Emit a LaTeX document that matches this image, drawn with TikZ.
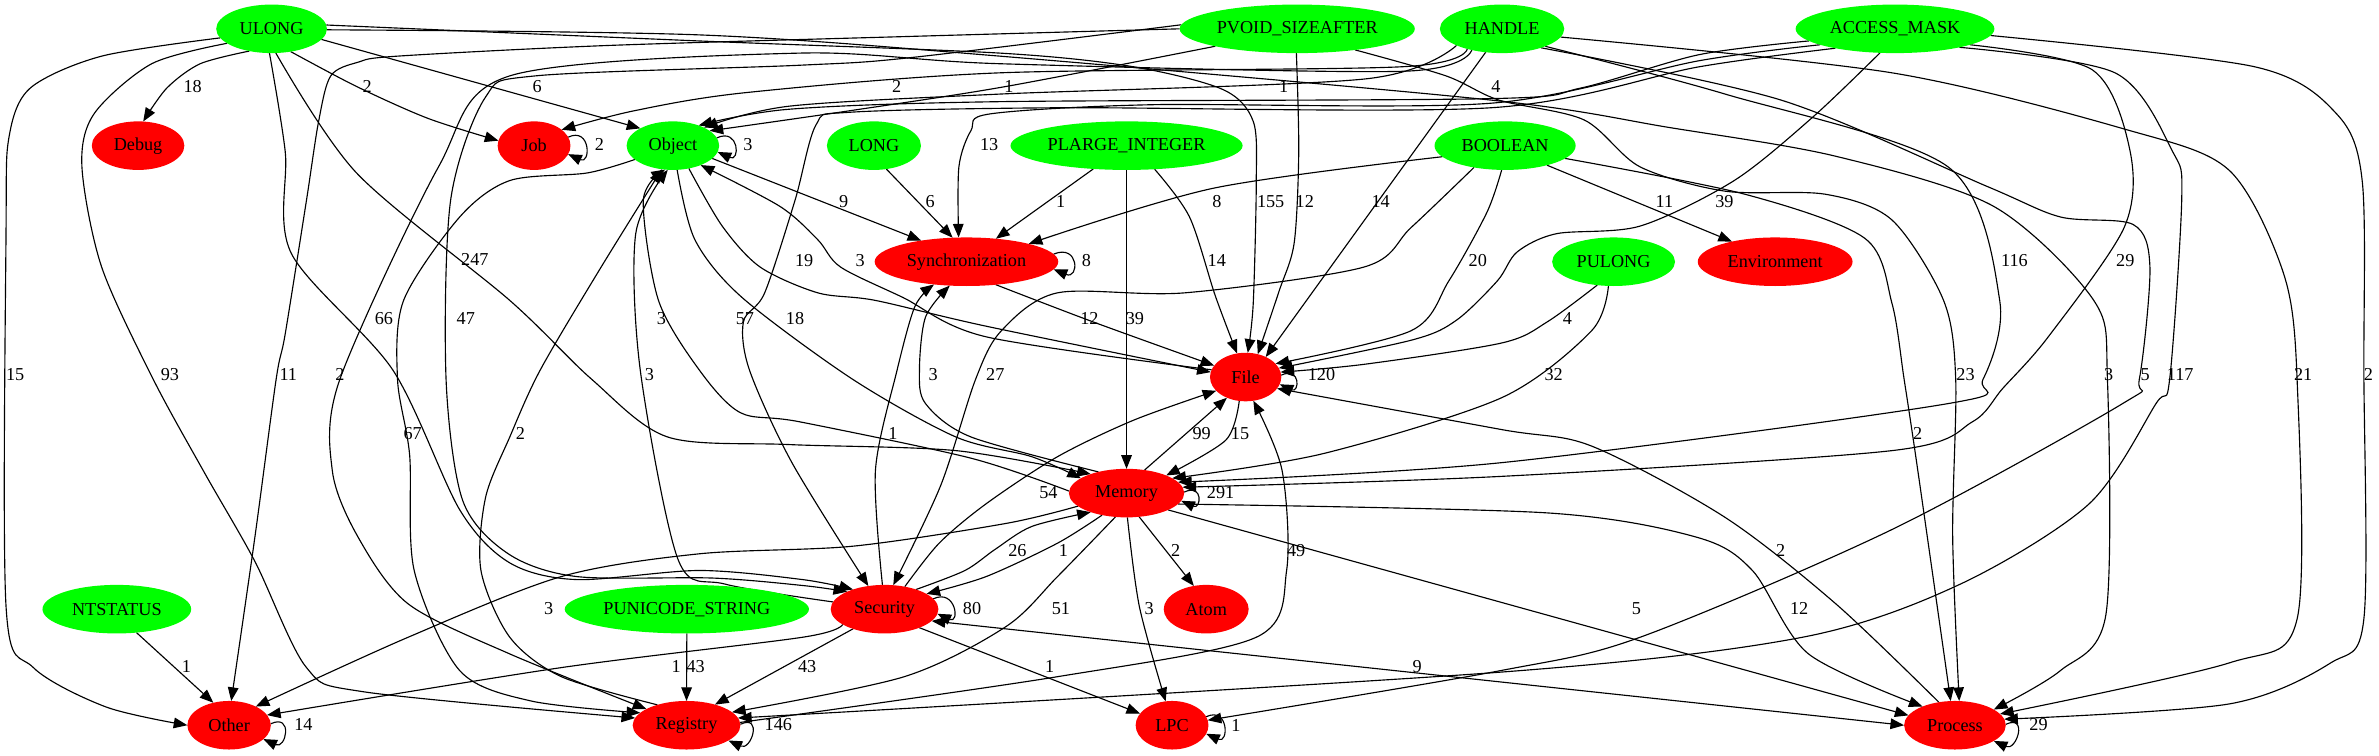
\documentclass[tikz,border=0pt]{standalone}
\usepackage{fontspec}
\setmainfont{Liberation Serif}
\usetikzlibrary{shapes.geometric,arrows.meta,backgrounds}
\definecolor{gvgreen}{RGB}{0,255,0}
\definecolor{gvred}{RGB}{255,0,0}
\newcommand{\gvf}{\fontsize{12pt}{13pt}\selectfont}
\begin{document}
\begin{tikzpicture}[x=1pt,y=-1pt,
  gvnode/.style={ellipse, inner sep=0pt, outer sep=0pt, minimum height=32pt, font=\gvf},
  gsrc/.style={gvnode, fill=gvgreen},
  gcat/.style={gvnode, fill=gvred},
  glbl/.style={font=\gvf, inner sep=0pt},
  gve/.style={draw=black, line width=0.75pt, -{Triangle[length=9pt,width=7pt]}},
  gvb/.style={draw=black, line width=0.75pt, {Triangle[length=9pt,width=7pt]}-{Triangle[length=9pt,width=7pt]}},
]
\useasboundingbox (0,0) rectangle (1568,498);
% nodes
\node[gsrc, minimum width=73pt]  (ULONG)    at (179,19)     {ULONG};
\node[gsrc, minimum width=155pt] (PVOID)    at (855,19)     {PVOID\_SIZEAFTER};
\node[gsrc, minimum width=82pt]  (HANDLE)   at (990,19)     {HANDLE};
\node[gsrc, minimum width=131pt] (ACCESS)   at (1249,19)    {ACCESS\_MASK};
\node[gcat, minimum width=61pt]  (Debug)    at (91,96)      {Debug};
\node[gcat, minimum width=48pt]  (Job)      at (352,96)     {Job};
\node[gsrc, minimum width=61pt]  (Object)   at (443.5,96)   {Object};
\node[gsrc, minimum width=62pt]  (LONG)     at (576,96)     {LONG};
\node[gsrc, minimum width=153pt] (PLARGE)   at (742.5,96)   {PLARGE\_INTEGER};
\node[gsrc, minimum width=93pt]  (BOOLEAN)  at (992,96)     {BOOLEAN};
\node[gcat, minimum width=121pt] (Sync)     at (637,172.5)  {Synchronization};
\node[gsrc, minimum width=81pt]  (PULONG)   at (1063.5,172.5) {PULONG};
\node[gcat, minimum width=102pt] (Env)      at (1170,172.5) {Environment};
\node[gcat, minimum width=47pt]  (File)     at (821,248.5)  {File};
\node[gcat, minimum width=76pt]  (Memory)   at (742.5,325)  {Memory};
\node[gsrc, minimum width=98pt]  (NTSTATUS) at (77,401.5)   {NTSTATUS};
\node[gsrc, minimum width=161pt] (PUNI)     at (452.7,401.5) {PUNICODE\_STRING};
\node[gcat, minimum width=71pt]  (Security) at (583,401.5)  {Security};
\node[gcat, minimum width=56pt]  (Atom)     at (795,401.5)  {Atom};
\node[gcat, minimum width=55pt]  (Other)    at (151,478)    {Other};
\node[gcat, minimum width=71pt]  (Registry) at (452.5,478)  {Registry};
\node[gcat, minimum width=48pt]  (LPC)      at (772.5,478)  {LPC};
\node[gcat, minimum width=67pt]  (Process)  at (1288.5,478) {Process};
% labels
\node[glbl] (L1) at (127,57) {18};
\node[glbl] (L2) at (242,57) {2};
\node[glbl] (L3) at (354,57) {6};
\node[glbl] (L4) at (591,57) {2};
\node[glbl] (L5) at (665,57) {1};
\node[glbl] (L6) at (846,57) {1};
\node[glbl] (L7) at (986,57) {4};
\node[glbl] (L8) at (395,95) {2};
\node[glbl] (L9) at (493,95) {3};
\node[glbl] (L10) at (652,95) {13};
\node[glbl] (L11) at (556,133) {9};
\node[glbl] (L12) at (613,133) {6};
\node[glbl] (L13) at (699,133) {1};
\node[glbl] (L14) at (802,133) {8};
\node[glbl] (L15) at (837.5,133) {155};
\node[glbl] (L16) at (860,133) {12};
\node[glbl] (L17) at (910,133) {14};
\node[glbl] (L18) at (1097,133) {11};
\node[glbl] (L19) at (1136.6,133) {39};
\node[glbl] (L20) at (313,171) {247};
\node[glbl] (L21) at (530,172) {19};
\node[glbl] (L22) at (567,172) {3};
\node[glbl] (L23) at (716,172) {8};
\node[glbl] (L24) at (802,172) {14};
\node[glbl] (L25) at (974,172) {20};
\node[glbl] (L26) at (1327.7,172) {116};
\node[glbl] (L27) at (1400.8,172) {29};
\node[glbl] (L28) at (253,210) {66};
\node[glbl] (L29) at (307,210) {47};
\node[glbl] (L30) at (436,210) {3};
\node[glbl] (L31) at (491,210) {57};
\node[glbl] (L32) at (524,210) {18};
\node[glbl] (L33) at (718,210) {12};
\node[glbl] (L34) at (748,210) {39};
\node[glbl] (L35) at (1033,210) {4};
\node[glbl] (L36) at (10,247) {15};
\node[glbl] (L37) at (112,247) {93};
\node[glbl] (L38) at (190,247) {11};
\node[glbl] (L39) at (224,247) {2};
\node[glbl] (L40) at (428,247) {3};
\node[glbl] (L41) at (615,247) {3};
\node[glbl] (L42) at (656,247) {27};
\node[glbl] (L43) at (871,247) {120};
\node[glbl] (L44) at (1024,247) {32};
\node[glbl] (L45) at (1295.5,247) {23};
\node[glbl] (L46) at (1389.8,247) {3};
\node[glbl] (L47) at (1413.8,247) {5};
\node[glbl] (L48) at (1437,247) {117};
\node[glbl] (L49) at (1518,247) {21};
\node[glbl] (L50) at (1561,247) {2};
\node[glbl] (L51) at (272,285.6) {67};
\node[glbl] (L52) at (343,285.6) {2};
\node[glbl] (L53) at (588.5,285.7) {1};
\node[glbl] (L54) at (792,285.7) {99};
\node[glbl] (L55) at (817.3,285.7) {15};
\node[glbl] (L56) at (1264,285.7) {2};
\node[glbl] (L57) at (691,324.8) {54};
\node[glbl] (L58) at (804.5,324.8) {291};
\node[glbl] (L59) at (670.6,362.6) {26};
\node[glbl] (L60) at (700.9,362.6) {1};
\node[glbl] (L61) at (774.9,362.6) {2};
\node[glbl] (L62) at (854.3,362.6) {49};
\node[glbl] (L63) at (1173.6,362.6) {2};
\node[glbl] (L64) at (361.6,401) {3};
\node[glbl] (L65) at (640.7,401) {80};
\node[glbl] (L66) at (699.2,401) {51};
\node[glbl] (L67) at (757.4,401) {3};
\node[glbl] (L68) at (1078.6,401) {5};
\node[glbl] (L69) at (1185.8,401) {12};
\node[glbl] (L70) at (122.8,439) {1};
\node[glbl] (L71) at (445.7,439) {1};
\node[glbl] (L72) at (458.5,439) {43};
\node[glbl] (L73) at (532,439) {43};
\node[glbl] (L74) at (691.8,439) {1};
\node[glbl] (L75) at (934,439) {9};
\node[glbl] (L76) at (200,477.5) {14};
\node[glbl] (L77) at (513,477.5) {146};
\node[glbl] (L78) at (814.6,478) {1};
\node[glbl] (L79) at (1343.6,477.5) {29};

\begin{pgfonlayer}{background}
\fill[white] (0,0) rectangle (1568,498);
% ULONG
\draw[gve] plot[smooth] coordinates {(ULONG.225) (132,42) (110,58) (Debug.78)};
\draw[gve] plot[smooth] coordinates {(ULONG.-50) (235,57) (282,78) (Job.172)};
\draw[gve] (ULONG.-12) -- (Object.152);
\draw[gve] plot[smooth] coordinates {(ULONG.190) (67,37) (20,58) (6,90) (4,150) (4,400) (22,440) (70,466) (Other.180)};
\draw[gve] plot[smooth] coordinates {(ULONG.198) (100,42) (62,75) (54,110) (67,176) (101,250) (135,312) (168,370) (202,440) (240,456) (Registry.172)};
\draw[gve] plot[smooth] coordinates {(ULONG.265) (188,100) (192,167) (259,244) (303,336) (336,371) (380,382) (461,376) (529,382) (Security.148)};
\draw[gve] plot[smooth] coordinates {(ULONG.280) (235,114) (336,198) (390,250) (440,288) (520,293) (630,297) (Memory.152)};
\draw[gve] plot[smooth] coordinates {(ULONG.4) (461,27) (659,35) (747,44) (806,59) (826,80) (828,120) (826,200) (File.85)};
\draw[gve] plot[smooth] coordinates {(ULONG.-1) (461,23) (659,37) (983,66) (1100,84) (1210,103) (1314,136) (1380,198) (1389,250) (1388,405) (1358,442) (Process.22)};
% PVOID
\draw[gve] plot[smooth] coordinates {(PVOID.192) (663,57) (560,73) (Object.22)};
\draw[gve] plot[smooth] coordinates {(PVOID.180) (600,24) (400,30) (262,37) (236,41) (218,50) (210,80) (202,132) (188,220) (182,250) (168,354) (Other.85)};
\draw[gve] plot[smooth] coordinates {(PVOID.268) (856,100) (853,160) (843,192) (File.62)};
\draw[gve] plot[smooth] coordinates {(PVOID.-20) (953,50) (988,66) (1044,79) (1081,110) (1137,126) (1203,128) (1247,145) (1281,198) (1289,250) (1287,354) (Process.80)};
\draw[gve] plot[smooth] coordinates {(PVOID.178) (600,38) (527,43) (353,50) (320,64) (297,132) (294,250) (305,330) (335,365) (380,380) (470,381) (530,386) (Security.155)};
% HANDLE
\draw[gve] plot[smooth] coordinates {(HANDLE.210) (924,44) (659,48) (492,61) (418,73) (Job.30)};
\draw[gve] plot[smooth] coordinates {(HANDLE.200) (900,52) (659,62) (520,70) (Object.30)};
\draw[gve] plot[smooth] coordinates {(HANDLE.215) (924,47) (659,42) (527,35) (336,50) (289,110) (224,250) (219,310) (236,354) (269,398) (336,431) (Registry.158)};
\draw[gve] (HANDLE.235) -- (File.45);
\draw[gve] plot[smooth] coordinates {(HANDLE.-22) (1137,62) (1284,110) (1318,198) (1307,250) (1284,266) (989,305) (Memory.12)};
\draw[gve] plot[smooth] coordinates {(HANDLE.-26) (1174,66) (1310,123) (1358,143) (1406,148) (1417,176) (1410,250) (1399,266) (1247,349) (1081,420) (989,442) (LPC.8)};
\draw[gve] plot[smooth] coordinates {(HANDLE.-8) (1247,48) (1400,85) (1469,112) (1505,180) (1514,250) (1514,408) (1469,437) (Process.14)};
% ACCESS_MASK
\draw[gve] plot[smooth] coordinates {(ACCESS.188) (1120,36) (1042,58) (983,65) (659,67) (520,72) (Object.38)};
\draw[gve] plot[smooth] coordinates {(ACCESS.192) (1120,40) (983,68) (760,69) (653,75) (640,86) (632,110) (Sync.108)};
\draw[gve] plot[smooth] coordinates {(ACCESS.198) (1120,44) (983,71) (700,71) (560,74) (538,82) (524,132) (504,193) (490,212) (494,244) (522,305) (Security.125)};
\draw[gve] plot[smooth] coordinates {(ACCESS.238) (1195,77) (1143,119) (1081,149) (1026,154) (1000,166) (987,185) (960,211) (931,224) (File.15)};
\draw[gve] plot[smooth] coordinates {(ACCESS.-12) (1379,46) (1404,100) (1400,150) (1350,222) (1320,256) (1300,278) (1247,297) (989,314) (Memory.6)};
\draw[gve] plot[smooth] coordinates {(ACCESS.-16) (1394,48) (1432,100) (1438,130) (1430,250) (1421,266) (1377,332) (1292,385) (1188,420) (989,443) (Registry.8)};
\draw[gve] plot[smooth] coordinates {(ACCESS.-4) (1486,44) (1540,75) (1557,120) (1558,245) (1558,408) (1536,437) (1469,464) (Process.7)};
% LONG, PLARGE, BOOLEAN, PULONG, NTSTATUS, PUNICODE
\draw[gve] (LONG.-62) -- (Sync.120);
\draw[gve] (PLARGE.-145) -- (Sync.38);
\draw[gve] (PLARGE.south) -- (Memory.north);
\draw[gve] plot[smooth] coordinates {(PLARGE.-40) (784,143) (801,195) (File.110)};
\draw[gve] plot[smooth] coordinates {(BOOLEAN.190) (800,124) (Sync.16)};
\draw[gve] plot[smooth] coordinates {(BOOLEAN.215) (930,150) (899,176) (781,193) (697,193) (660,218) (643,250) (620,320) (Security.70)};
\draw[gve] plot[smooth] coordinates {(BOOLEAN.262) (980,140) (955,185) (930,218) (File.24)};
\draw[gve] (BOOLEAN.-25) -- (Env.155);
\draw[gve] plot[smooth] coordinates {(BOOLEAN.-12) (1150,128) (1229,157) (1247,200) (1255,250) (1264,310) (Process.100)};
\draw[gve] plot[smooth] coordinates {(PULONG.235) (1020,212) (990,226) (900,240) (File.8)};
\draw[gve] plot[smooth] coordinates {(PULONG.258) (1049,218) (990,262) (872,299) (Memory.18)};
\draw[gve] (NTSTATUS.-50) -- (Other.125);
\draw[gve] (PUNI.south) -- (Registry.north);
% Object
\draw[gve] (Object.-18) -- (Sync.155);
\draw[gve] plot[smooth] coordinates {(Object.-55) (476,149) (501,176) (539,193) (577,198) (650,215) (File.172)};
\draw[gve] plot[smooth] coordinates {(File.168) (650,222) (595,196) (554,176) (539,158) (514,136) (Object.-35)};
\draw[gve] plot[smooth] coordinates {(Object.-80) (458,158) (489,196) (562,250) (630,288) (680,301) (Memory.162)};
\draw[gve] plot[smooth] coordinates {(Object.200) (387,114) (336,119) (303,143) (266,198) (262,250) (270,300) (273,376) (303,442) (350,462) (Registry.165)};
\draw[gve] plot[smooth] coordinates {(Registry.145) (370,446) (336,420) (317,376) (320,328) (336,288) (356,244) (395,178) (Object.245)};
\draw[gve] plot[smooth] coordinates {(Security.172) (478,385) (447,369) (422,244) (419,154) (Object.258)};
\draw[gve] plot[smooth] coordinates {(Memory.178) (640,302) (527,278) (488,272) (461,244) (434,198) (424,132) (Object.252)};
% Sync, File, Memory, Security
\draw[gve] plot[smooth] coordinates {(Sync.-38) (720,212) (File.160)};
\draw[gve] plot[smooth] coordinates {(Security.95) (577,310) (591,245) (603,202) (Sync.215)};
\draw[gve] plot[smooth] coordinates {(Memory.143) (640,288) (610,266) (606,244) (610,209) (Sync.235)};
\draw[gve] plot[smooth] coordinates {(File.255) (808,290) (Memory.24)};
\draw[gve] (Memory.52) -- (File.228);
\draw[gve] plot[smooth] coordinates {(Security.48) (619,358) (650,332) (697,301) (747,277) (File.205)};
\draw[gve] plot[smooth] coordinates {(Security.32) (636,376) (656,362) (680,347) (Memory.208)};
\draw[gve] plot[smooth] coordinates {(Memory.222) (697,358) (650,380) (Security.20)};
\draw[gve] (Memory.-62) -- (Atom.118);
\draw[gve] plot[smooth] coordinates {(Memory.-88) (751,400) (LPC.105)};
\draw[gve] plot[smooth] coordinates {(Memory.245) (697,380) (663,413) (596,446) (Registry.16)};
\draw[gve] (Memory.-22) -- (Process.168);
\draw[gve] plot[smooth] coordinates {(Memory.-12) (1019,338) (1118,354) (1155,376) (1192,431) (Process.150)};
\draw[gve] plot[smooth] coordinates {(Process.125) (1210,398) (1137,341) (1049,294) (989,283) (File.-20)};
\draw[gvb] (Security.-14) -- (Process.180);
\draw[gve] (Security.212) -- (Registry.36);
\draw[gve] (Security.-28) -- (LPC.160);
\draw[gve] plot[smooth] coordinates {(Security.200) (529,420) (370,440) (Other.15)};
\draw[gve] plot[smooth] coordinates {(Memory.195) (663,345) (562,360) (461,365) (370,380) (269,420) (Other.35)};
\draw[gve] plot[smooth] coordinates {(Registry.3) (697,446) (828,420) (848,376) (845,310) (File.-72)};
% self loops
\draw[gve] (Job.14) .. controls +(15,-7) and +(15,7) .. (Job.-14);
\draw[gve] (Object.10) .. controls +(15,-7) and +(15,7) .. (Object.-8);
\draw[gve] (Sync.5) .. controls +(17,-7) and +(17,7) .. (Sync.-5);
\draw[gve] (File.3) .. controls +(13,-6) and +(13,6) .. (File.-12);
\draw[gve] (Memory.1) .. controls +(13,-6) and +(13,6) .. (Memory.-8);
\draw[gve] (Security.12) .. controls +(15,-7) and +(15,7) .. (Security.-5);
\draw[gve] (Other.2) .. controls +(15,-7) and +(15,7) .. (Other.-22);
\draw[gve] (Registry.1) .. controls +(15,-7) and +(15,7) .. (Registry.-20);
\draw[gve] (LPC.14) .. controls +(15,-7) and +(15,7) .. (LPC.-14);
\draw[gve] (Process.1) .. controls +(15,-7) and +(15,7) .. (Process.-22);
\end{pgfonlayer}
\end{tikzpicture}
\end{document}
